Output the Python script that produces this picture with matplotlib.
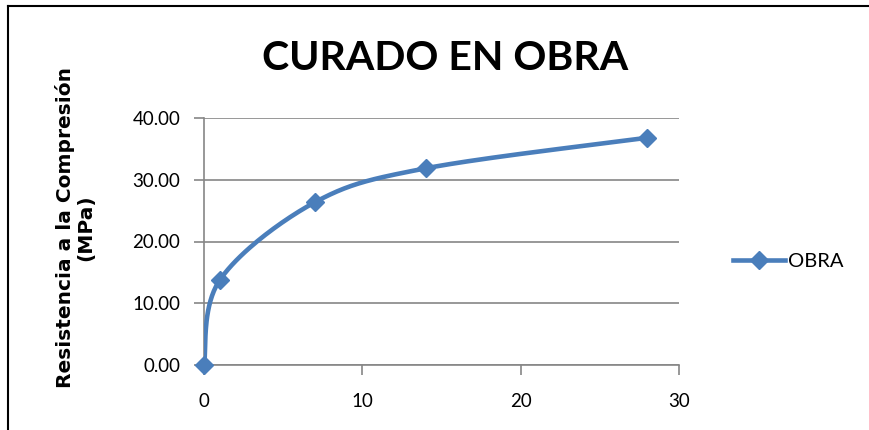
import matplotlib as mpl
mpl.use('Agg')
import matplotlib.pyplot as plt
import numpy as np
from matplotlib.lines import Line2D

# data
dias = [0, 1, 7, 14, 28]
resistencia = [0.0, 13.77, 26.35, 31.85, 36.8]
serie = 'OBRA'
yticks = [0, 10, 20, 30, 40]
xticks = [0, 10, 20, 30]

azul = '#4A7EBB'
gris = '#868686'


def excel_smooth(x, y, n=40):
    # Catmull-Rom style bezier, like Excel's smoothed line
    x = np.asarray(x, float)
    y = np.asarray(y, float)
    px = np.concatenate([[x[0]], x, [x[-1]]])
    py = np.concatenate([[y[0]], y, [y[-1]]])
    xs, ys = [], []
    t = np.linspace(0, 1, n)
    for i in range(1, len(px) - 2):
        p0 = np.array([px[i], py[i]])
        p3 = np.array([px[i + 1], py[i + 1]])
        c1 = p0 + (np.array([px[i + 1], py[i + 1]]) - np.array([px[i - 1], py[i - 1]])) / 6
        c2 = p3 - (np.array([px[i + 2], py[i + 2]]) - np.array([px[i], py[i]])) / 6
        b = ((1 - t) ** 3)[:, None] * p0 + (3 * (1 - t) ** 2 * t)[:, None] * c1 \
            + (3 * (1 - t) * t ** 2)[:, None] * c2 + (t ** 3)[:, None] * p3
        xs.extend(b[:, 0])
        ys.extend(b[:, 1])
    return np.array(xs), np.array(ys)


fig = plt.figure(figsize=(8.7, 4.3), dpi=100)
fig.patch.set_facecolor('white')

# outer chart border: only the left and top edges are inside the image
bx = 8.5 / 870
by = 1 - 5.5 / 430
fig.add_artist(Line2D([bx, bx], [0, by], transform=fig.transFigure, color='black', linewidth=1.5))
fig.add_artist(Line2D([bx, 1], [by, by], transform=fig.transFigure, color='black', linewidth=1.5))

ax = fig.add_axes([204 / 870, 65 / 430, 475 / 870, 247 / 430])

sx, sy = excel_smooth(dias, resistencia)
ax.plot(sx, sy, color=azul, linewidth=3.3, solid_capstyle='round', zorder=3)
ax.plot(dias, resistencia, linestyle='none', marker='D', markersize=9.5,
        color=azul, zorder=4, clip_on=False)

ax.set_xlim(0, 30)
ax.set_ylim(0, 40)
ax.set_xticks(xticks)
ax.set_yticks(yticks)
ax.set_yticklabels(['{0:.2f}'.format(v) for v in yticks])

ax.yaxis.grid(True, color=gris, linewidth=1.2)
ax.set_axisbelow(True)
for s in ['top', 'right']:
    ax.spines[s].set_visible(False)
for s in ['left', 'bottom']:
    ax.spines[s].set_color(gris)
    ax.spines[s].set_linewidth(1.2)
ax.tick_params(axis='both', colors=gris, length=7, width=1.2, labelcolor='black',
               labelsize=13.5)
ax.tick_params(axis='x', pad=13)
ax.tick_params(axis='y', pad=10)
for lab in ax.get_xticklabels() + ax.get_yticklabels():
    lab.set_family('Lato')

fig.text(445 / 870, 1 - 58 / 430, 'CURADO EN OBRA', ha='center', va='center',
         fontsize=29.5, fontweight='bold', family='Lato')

fig.text(75 / 870, 1 - 228 / 430, 'Resistencia a la Compresión\n(MPa)', rotation=90,
         ha='center', va='center', fontsize=14.5, fontweight='bold',
         family='DejaVu Sans', linespacing=1.05, multialignment='center')

# legend built from a proxy line
leg_line, = ax.plot([], [], color=azul, linewidth=3.3, marker='D', markersize=9.5, label=serie)
ax.legend(handles=[leg_line], loc='center left', bbox_to_anchor=(733 / 870, 1 - 261 / 430),
          bbox_transform=fig.transFigure, frameon=False, handlelength=2.6,
          handletextpad=0.15, borderpad=0, borderaxespad=0,
          prop={'family': 'Lato', 'size': 14.5})

plt.savefig('out.png', dpi=100)
